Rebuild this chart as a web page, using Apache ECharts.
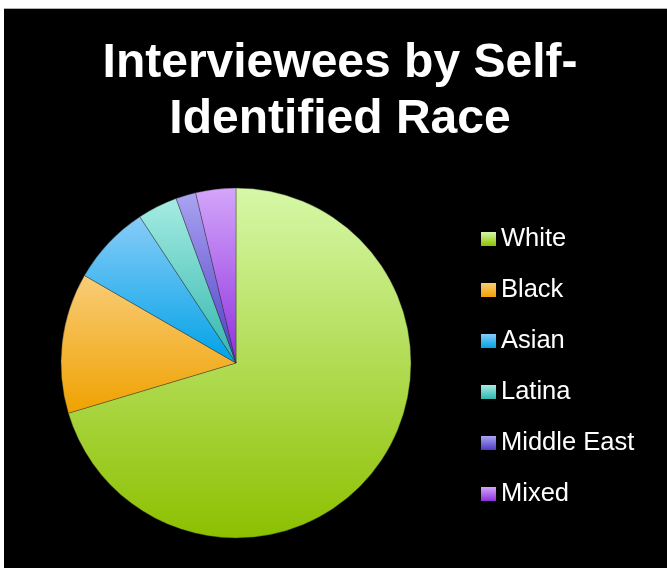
<!DOCTYPE html>
<html>
<head>
<meta charset="utf-8">
<script src="https://cdn.jsdelivr.net/npm/echarts@6/dist/echarts.min.js"></script>
<style>
  html, body { margin: 0; padding: 0; background: #fff; }
  #chart {
    position: absolute; left: 4px; top: 8px;
    width: 663px; height: 560px;
    background: #000;
    border-top: 1px solid #b0b0b0;
    box-sizing: border-box;
  }
</style>
</head>
<body>
<div id="chart"></div>
<script>
// data
const races = ['White', 'Black', 'Asian', 'Latina', 'Middle East', 'Mixed'];
const counts = [38, 7, 4, 2, 1, 2];

// top / bottom shade of each slice gradient
const shades = [
  ['#d6f8a8', '#8cc000'],
  ['#f9cc78', '#efa200'],
  ['#88ccf8', '#00a2e6'],
  ['#a6ece2', '#30b6ae'],
  ['#aaa4f2', '#4c3cc4'],
  ['#d4a6fa', '#8e30de']
];

const chart = echarts.init(document.getElementById('chart'));

const grad = (i) => new echarts.graphic.LinearGradient(0, 0, 0, 1, [
  { offset: 0, color: shades[i][0] },
  { offset: 1, color: shades[i][1] }
]);

chart.setOption({
  backgroundColor: '#000',
  animation: false,
  title: {
    text: 'Interviewees by Self-\nIdentified Race',
    left: 336,
    textAlign: 'center',
    top: 27,
    padding: 0,
    textStyle: {
      color: '#fff',
      fontFamily: 'Liberation Sans, Arial, sans-serif',
      fontWeight: 'bold',
      fontSize: 48,
      lineHeight: 56
    }
  },
  legend: {
    orient: 'vertical',
    left: 477,
    top: 217,
    itemWidth: 15,
    itemHeight: 14,
    itemGap: 25,
    padding: 0,
    icon: 'rect',
    data: races,
    itemStyle: { borderWidth: 0 },
    textStyle: {
      color: '#fff',
      fontFamily: 'Liberation Sans, Arial, sans-serif',
      fontSize: 25.5,
      lineHeight: 25
    }
  },
  series: [{
    type: 'pie',
    center: [232, 354],
    radius: 175,
    startAngle: 90,
    clockwise: true,
    label: { show: false },
    labelLine: { show: false },
    emphasis: { disabled: true },
    itemStyle: {
      borderColor: 'rgba(50,50,50,0.55)',
      borderWidth: 0.7
    },
    data: races.map((name, i) => ({
      name: name,
      value: counts[i],
      itemStyle: { color: grad(i) }
    }))
  }]
});
</script>
</body>
</html>
